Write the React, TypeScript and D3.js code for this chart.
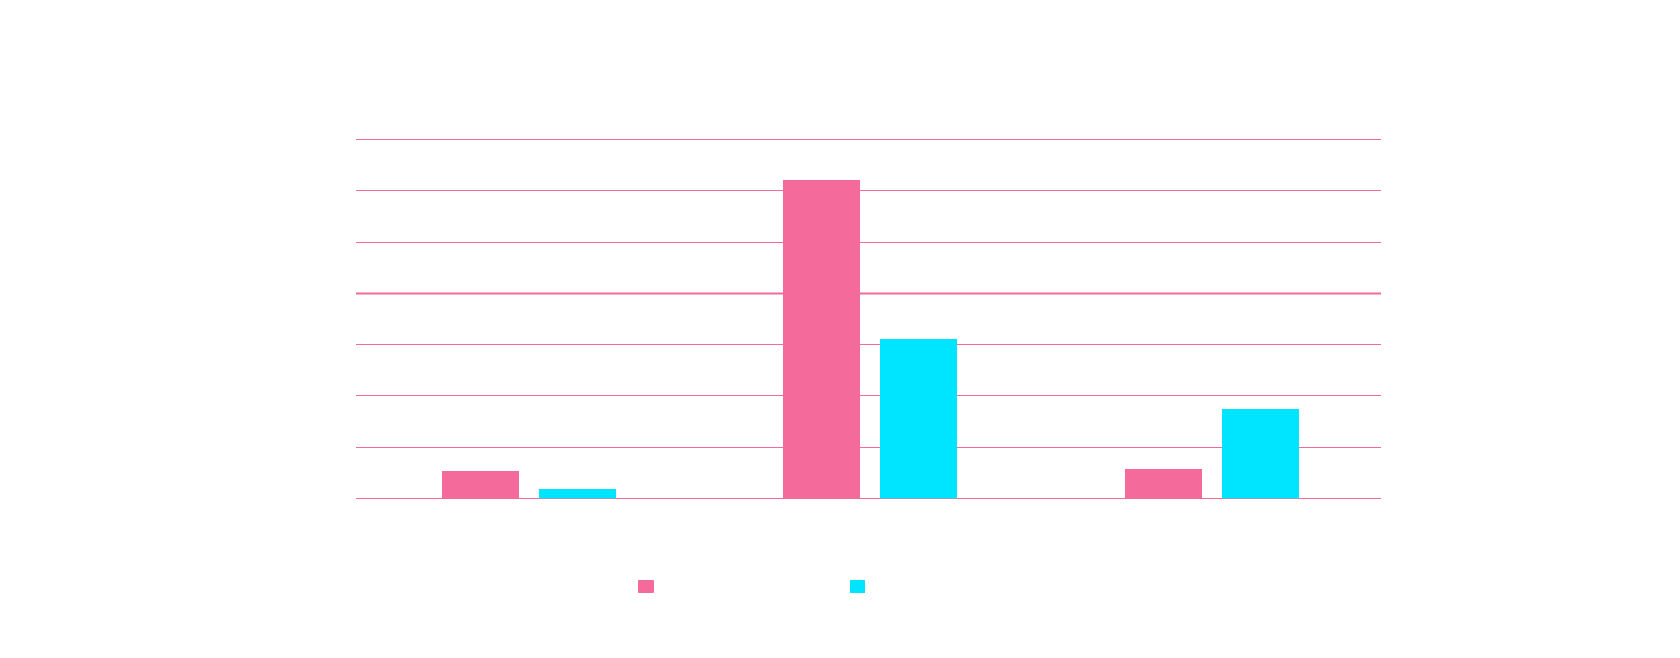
import React from "react";
import * as d3 from "d3";

const categories = ["A", "B", "C"];
const seriesNames = ["Series 1", "Series 2"];
const series1 = [5.2, 62.1, 5.6];
const series2 = [1.7, 31.1, 17.3];
const yTicks = [0, 10, 20, 30, 40, 50, 60, 70];
const colors = ["#F46A9B", "#00E5FF"];

export default function App() {
  const W = 1680, H = 658;
  const left = 356, right = 1381, top = 139, bottom = 498;
  const x0 = d3.scaleBand<string>().domain(categories).range([left, right]).padding(0);
  const y = d3.scaleLinear().domain([0, 70]).range([bottom, top]);
  const bw = x0.bandwidth();
  const x1 = d3
    .scaleBand<string>()
    .domain(seriesNames)
    .range([bw / 2 - 95, bw / 2 + 99])
    .paddingInner(0.206)
    .paddingOuter(0.103);
  const data = [series1, series2];

  return (
    <svg
      width={W}
      height={H}
      style={{ position: "absolute", left: 0, top: 0, display: "block", background: "#fff" }}
    >
      <g>
        {yTicks.map((t, i) => {
          const yy = Math.round(y(t)) + 0.5;
          return (
            <line
              key={i}
              x1={left}
              x2={right}
              y1={yy}
              y2={yy}
              stroke="#F46A9B"
              strokeWidth={t === 40 ? 2 : 1}
            />
          );
        })}
      </g>
      <g>
        {categories.map((c, ci) =>
          seriesNames.map((s, si) => {
            const v = data[si][ci];
            const xx = (x0(c) as number) + (x1(s) as number);
            return (
              <rect
                key={c + s}
                x={Math.round(xx)}
                y={Math.round(y(v))}
                width={Math.round(x1.bandwidth())}
                height={bottom - Math.round(y(v)) + 1}
                fill={colors[si]}
              />
            );
          })
        )}
      </g>
      <line
        x1={left}
        x2={right}
        y1={bottom + 0.5}
        y2={bottom + 0.5}
        stroke="#F46A9B"
        strokeOpacity={0.6}
        strokeWidth={1}
      />
      <g>
        <rect x={638} y={580} width={16} height={13} rx={1} fill={colors[0]} />
        <rect x={850} y={580} width={15} height={13} fill={colors[1]} />
      </g>
    </svg>
  );
}
